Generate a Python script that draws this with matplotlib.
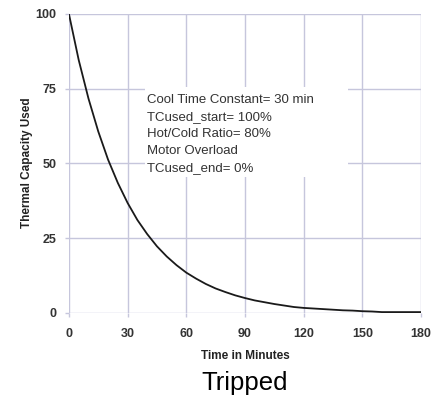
#!/usr/bin/env python3
"""Thermal capacity used vs time after a motor overload trip."""

import matplotlib
matplotlib.use("Agg")
import matplotlib.pyplot as plt
from matplotlib.patches import Rectangle

plt.rcParams["font.family"] = ["Liberation Sans", "DejaVu Sans"]

# values (minutes, % thermal capacity used)
minutes = [0, 5, 10, 15, 20, 25, 30, 35, 40, 45, 50, 55, 60, 65, 70, 75, 80, 85, 90,
           95, 100, 105, 110, 115, 120, 125, 130, 135, 140, 145, 150, 155, 160, 165,
           170, 175, 180]
tc_used = [100, 84.6, 71.7, 60.7, 51.3, 43.5, 36.8, 31.1, 26.4, 22.3, 18.9, 16.0, 13.5,
           11.5, 9.7, 8.2, 7.0, 5.9, 5.0, 4.2, 3.6, 3.0, 2.5, 2.0, 1.7, 1.5, 1.3, 1.1,
           0.9, 0.8, 0.6, 0.5, 0.3, 0.3, 0.3, 0.3, 0.3]

x_ticks = [0, 30, 60, 90, 120, 150, 180]
y_ticks = [0, 25, 50, 75, 100]

info_lines = [
    "Cool Time Constant= 30 min",
    "TCused_start= 100%",
    "Hot/Cold Ratio= 80%",
    "Motor Overload",
    "TCused_end= 0%",
]

GRID = "#c6c6dc"
TEXT = "#333333"

fig = plt.figure(figsize=(4.39, 3.98), dpi=100)
ax = fig.add_axes([0.157, 0.2136, 0.802, 0.7514])

ax.plot(minutes, tc_used, color="#1a1a1a", lw=1.3, zorder=4)

ax.set_xlim(0, 180)
ax.set_ylim(0, 100)
ax.set_xticks(x_ticks)
ax.set_yticks(y_ticks)
ax.grid(True, color=GRID, lw=1.0, zorder=0)
ax.set_axisbelow(True)
for sp in ax.spines.values():
    sp.set_visible(False)
ax.tick_params(axis="both", color=GRID, length=3, width=1.0, labelsize=9,
               labelcolor=TEXT)
ax.tick_params(axis="x", pad=8)
ax.tick_params(axis="y", pad=6)
for lab in ax.get_xticklabels() + ax.get_yticklabels():
    lab.set_fontweight("bold")

# white box behind the notes, it hides the grid
ax.add_patch(Rectangle((0.216, 0.455), 0.577, 0.301, transform=ax.transAxes,
                       facecolor="white", edgecolor="none", zorder=2))
ax.text(0.222, 0.733, "\n".join(info_lines), transform=ax.transAxes,
        ha="left", va="top", fontsize=9.5, color=TEXT, linespacing=1.56, zorder=3)

fig.text(0.062, 0.59, "Thermal Capacity Used", rotation=90, ha="center",
         va="center", fontsize=8.5, fontweight="bold", color="#222222")
fig.text(0.558, 0.106, "Time in Minutes", ha="center", va="center",
         fontsize=8.5, fontweight="bold", color="#222222")
fig.text(0.558, 0.02, "Tripped", ha="center", va="baseline", fontsize=18.5,
         color="black")

fig.savefig("out.png", dpi=100)
